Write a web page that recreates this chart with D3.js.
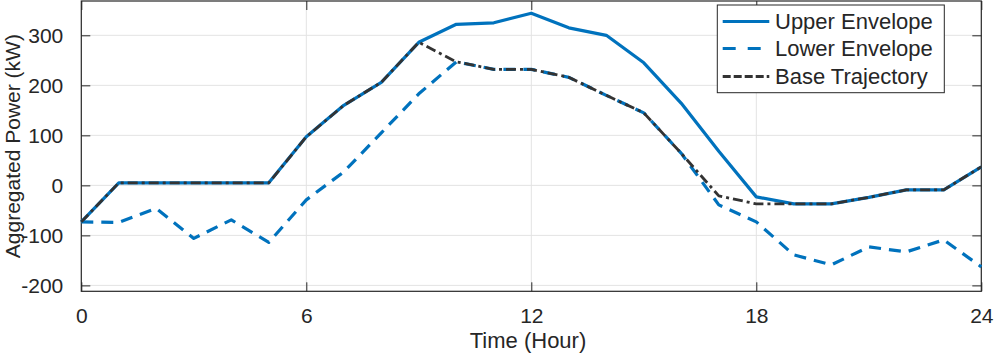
<!DOCTYPE html>
<html>
<head>
<meta charset="utf-8">
<script src="https://cdn.jsdelivr.net/npm/d3@7"></script>
<style>
  html, body { margin: 0; padding: 0; background: #fff; }
  svg { display: block; }
  text { font-family: "Liberation Sans", Arial, Helvetica, sans-serif; fill: #262626; }
</style>
</head>
<body>
<svg id="chart" width="996" height="358"></svg>
<script>
// ---- data ----
const hours = d3.range(0, 25);
const upperEnvelope = [-73, 5, 5, 5, 5, 5, 97, 160, 206, 286, 322, 325, 344, 315, 300, 245, 164, 68, -23, -37, -37, -24, -9, -9, 37];
const lowerEnvelope = [-73, -74, -46, -106, -69, -114, -29, 27, 105, 183, 247, 232, 232, 216, 180, 145, 64, -39, -73, -139, -159, -123, -133, -109, -163];
const baseTrajectory = [-73, 5, 5, 5, 5, 5, 97, 160, 206, 286, 247, 232, 232, 216, 180, 145, 64, -21, -37, -37, -37, -24, -9, -9, 37];
const xTicks = [0, 6, 12, 18, 24];
const yTicks = [-200, -100, 0, 100, 200, 300];
const seriesNames = ["Upper Envelope", "Lower Envelope", "Base Trajectory"];
const xLabel = "Time (Hour)";
const yLabel = "Aggregated Power (kW)";

// ---- layout ----
const L = 81.3, R = 981.3, T = 1, B = 291.3;
const svg = d3.select("#chart");
const x = d3.scaleLinear().domain([0, 24]).range([L, R]);
const y = d3.scaleLinear().domain([-211.8, 368.6]).range([B, T]);

const axisColor = "#262626";
const blue = "#0072BD";
const dark = "#333333";

// grid
const grid = svg.append("g");
grid.selectAll("line.gy").data(yTicks).join("line")
  .attr("x1", L).attr("x2", R)
  .attr("y1", d => y(d)).attr("y2", d => y(d))
  .attr("stroke", "#e3e3e3").attr("stroke-width", 1);
grid.selectAll("line.gx").data(xTicks.slice(1, -1)).join("line")
  .attr("x1", d => x(d)).attr("x2", d => x(d))
  .attr("y1", T).attr("y2", B)
  .attr("stroke", "#e3e3e3").attr("stroke-width", 1);

// axes (ticks inside)
const tickLen = 9;
const fmt = d => String(d);
const axB = svg.append("g").attr("transform", `translate(0,${B})`)
  .call(d3.axisBottom(x).tickValues(xTicks).tickSizeInner(-tickLen).tickSizeOuter(0).tickPadding(17).tickFormat(fmt));
const axT = svg.append("g").attr("transform", `translate(0,${T})`)
  .call(d3.axisTop(x).tickValues(xTicks).tickSizeInner(-tickLen).tickSizeOuter(0).tickFormat(""));
const axLft = svg.append("g").attr("transform", `translate(${L},0)`)
  .call(d3.axisLeft(y).tickValues(yTicks).tickSizeInner(-tickLen).tickSizeOuter(0).tickPadding(18).tickFormat(fmt));
const axRgt = svg.append("g").attr("transform", `translate(${R},0)`)
  .call(d3.axisRight(y).tickValues(yTicks).tickSizeInner(-tickLen).tickSizeOuter(0).tickFormat(""));
[axB, axT, axLft, axRgt].forEach(a => {
  a.select(".domain").remove();
  a.selectAll(".tick line").attr("stroke", axisColor).attr("stroke-width", 1);
  a.selectAll(".tick text").style("font-size", "21px").attr("fill", axisColor)
    .style("font-family", "'Liberation Sans', Arial, sans-serif");
});
axLft.selectAll(".tick text").attr("dy", "0.36em");
axB.selectAll(".tick text").attr("dy", "0.71em");

// box
svg.append("rect").attr("x", L).attr("y", T).attr("width", R - L).attr("height", B - T)
  .attr("fill", "none").attr("stroke", axisColor).attr("stroke-width", 1.2);

// lines
const line = d3.line().x((d, i) => x(hours[i])).y(d => y(d));
const styles = [
  { data: upperEnvelope, color: blue, width: 3.2, dash: null },
  { data: lowerEnvelope, color: blue, width: 3.2, dash: "12,8" },
  { data: baseTrajectory, color: dark, width: 2.8, dash: "10,4,3,4" }
];
styles.forEach(s => {
  svg.append("path").datum(s.data)
    .attr("d", line)
    .attr("fill", "none")
    .attr("stroke", s.color)
    .attr("stroke-width", s.width)
    .attr("stroke-linejoin", "round")
    .attr("stroke-dasharray", s.dash);
});

// axis labels
svg.append("text").attr("x", 528).attr("y", 348)
  .attr("text-anchor", "middle").style("font-size", "22px").text(xLabel);
svg.append("text").attr("transform", `translate(20,${(T + B) / 2}) rotate(-90)`)
  .attr("text-anchor", "middle").style("font-size", "21px").text(yLabel);

// legend
const lg = svg.append("g");
lg.append("rect").attr("x", 717.3).attr("y", 5).attr("width", 227).attr("height", 87.7)
  .attr("fill", "#fff").attr("stroke", axisColor).attr("stroke-width", 1);
const rowY = [21.5, 48.5, 76.5];
styles.forEach((s, i) => {
  lg.append("line").attr("x1", 722.7).attr("x2", 769.3)
    .attr("y1", rowY[i]).attr("y2", rowY[i])
    .attr("stroke", s.color).attr("stroke-width", s.width)
    .attr("stroke-dasharray", i === 1 ? "13,12" : (i === 2 ? "8,3" : null));
  lg.append("text").attr("x", 775).attr("y", rowY[i]).attr("dy", "0.36em")
    .style("font-size", "22px").attr("fill", "#000").text(seriesNames[i]);
});
</script>
</body>
</html>
